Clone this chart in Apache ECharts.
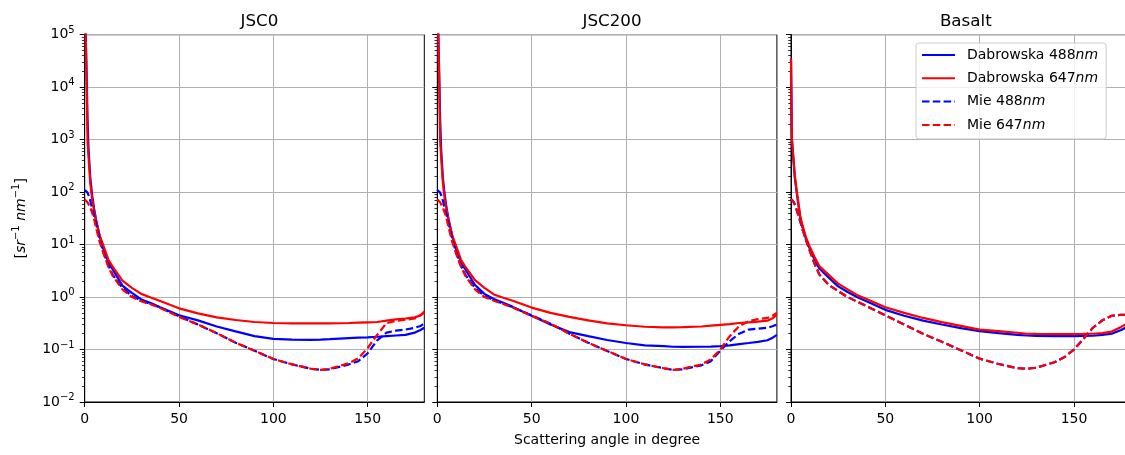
<!DOCTYPE html>
<html><head><meta charset="utf-8">
<script src="https://cdn.jsdelivr.net/npm/echarts@6/dist/echarts.min.js"></script>
<style>html,body{margin:0;padding:0;background:#fff}#c{width:1125px;height:455px}</style>
</head><body><div id="c"></div>
<script>
// ---------- data ----------
const angles = [0, 0.5, 1, 1.5, 2, 3, 4, 5, 6, 8, 10, 12.5, 15, 20, 25, 30, 35, 40, 50, 60, 70, 80, 90, 100, 110, 120, 125, 130, 140, 145, 150, 155, 160, 165, 170, 175, 178, 180];
const panelTitles = ['JSC0', 'JSC200', 'Basalt'];
const seriesNames = ['Dabrowska 488nm', 'Dabrowska 647nm', 'Mie 488nm', 'Mie 647nm'];
const xTicks = [0, 50, 100, 150];
const yTicks = [0.01, 0.1, 1, 10, 100, 1000, 10000, 100000];
const xLabel = 'Scattering angle in degree';

const jsc0_dab488 = [3e5, 1.2e5, 2e4, 2.5e3, 700, 180, 85, 48, 30, 14, 8, 4.7, 3.3, 1.65, 1.2, 0.9, 0.77, 0.64, 0.45, 0.36, 0.275, 0.222, 0.18, 0.16, 0.155, 0.153, 0.155, 0.158, 0.165, 0.168, 0.17, 0.175, 0.18, 0.185, 0.19, 0.21, 0.235, 0.26];
const jsc0_dab647 = [3e5, 1e5, 1.3e4, 1e3, 480, 145, 71, 44, 29, 14.6, 9.4, 5.2, 3.7, 2.05, 1.5, 1.15, 0.98, 0.84, 0.61, 0.49, 0.41, 0.365, 0.335, 0.32, 0.316, 0.315, 0.315, 0.315, 0.32, 0.325, 0.33, 0.335, 0.355, 0.375, 0.39, 0.41, 0.45, 0.5];
const jsc0_mie488 = [110, 108, 104, 98, 88, 68, 47, 36, 25, 12.5, 7, 4, 2.6, 1.5, 1.05, 0.85, 0.74, 0.63, 0.43, 0.30, 0.205, 0.135, 0.095, 0.066, 0.052, 0.043, 0.041, 0.042, 0.052, 0.06, 0.085, 0.15, 0.21, 0.23, 0.24, 0.26, 0.28, 0.32];
const jsc0_mie647 = [72, 70, 68, 64, 60, 50, 40, 30, 21, 11, 6.7, 3.8, 2.5, 1.4, 1.0, 0.83, 0.73, 0.62, 0.42, 0.30, 0.205, 0.135, 0.095, 0.066, 0.052, 0.043, 0.041, 0.043, 0.055, 0.068, 0.107, 0.19, 0.32, 0.35, 0.37, 0.39, 0.45, 0.53];

const jsc200_dab488 = [3e5, 1.2e5, 2e4, 2.5e3, 700, 180, 85, 48, 30, 14, 8, 4.7, 3.3, 1.7, 1.15, 0.92, 0.78, 0.65, 0.44, 0.30, 0.215, 0.18, 0.152, 0.133, 0.12, 0.116, 0.113, 0.112, 0.113, 0.114, 0.116, 0.12, 0.127, 0.133, 0.14, 0.15, 0.17, 0.19];
const jsc200_dab647 = [3e5, 1e5, 1.3e4, 1e3, 480, 145, 71, 44, 29, 14.6, 9.4, 5.2, 3.7, 2.1, 1.5, 1.12, 0.97, 0.85, 0.63, 0.5, 0.42, 0.36, 0.315, 0.29, 0.272, 0.265, 0.265, 0.268, 0.275, 0.285, 0.295, 0.305, 0.32, 0.33, 0.34, 0.355, 0.4, 0.46];
const jsc200_mie488 = [110, 108, 104, 98, 88, 68, 47, 36, 25, 12.5, 7, 4, 2.6, 1.5, 1.05, 0.87, 0.75, 0.64, 0.45, 0.31, 0.2, 0.135, 0.094, 0.066, 0.052, 0.044, 0.041, 0.042, 0.05, 0.06, 0.095, 0.145, 0.2, 0.24, 0.25, 0.26, 0.28, 0.3];
const jsc200_mie647 = [72, 70, 68, 64, 60, 50, 40, 30, 21, 11, 6.7, 3.8, 2.5, 1.4, 1.0, 0.85, 0.74, 0.63, 0.44, 0.31, 0.2, 0.135, 0.094, 0.066, 0.052, 0.044, 0.041, 0.043, 0.052, 0.065, 0.1, 0.18, 0.28, 0.345, 0.38, 0.4, 0.45, 0.5];

const basalt_dab488 = [3.5e4, 1e3, 560, 330, 190, 100, 55, 31, 22, 12.5, 8.3, 5.1, 3.5, 2.35, 1.6, 1.25, 1.0, 0.83, 0.57, 0.44, 0.355, 0.3, 0.255, 0.225, 0.205, 0.19, 0.185, 0.182, 0.18, 0.18, 0.18, 0.181, 0.183, 0.19, 0.2, 0.235, 0.27, 0.3];
const basalt_dab647 = [3.5e4, 1e3, 600, 360, 210, 110, 59, 33, 24, 13.5, 9, 5.8, 3.9, 2.65, 1.8, 1.4, 1.1, 0.92, 0.64, 0.5, 0.4, 0.333, 0.283, 0.24, 0.224, 0.209, 0.2, 0.198, 0.197, 0.197, 0.197, 0.198, 0.2, 0.205, 0.22, 0.27, 0.31, 0.35];
const basalt_mie488 = [74, 72, 68, 64, 58, 46, 35, 27, 20, 12, 7.5, 4.3, 2.7, 1.7, 1.3, 1.0, 0.82, 0.67, 0.45, 0.3, 0.2, 0.14, 0.097, 0.067, 0.053, 0.044, 0.043, 0.045, 0.058, 0.072, 0.1, 0.16, 0.26, 0.36, 0.44, 0.46, 0.46, 0.45];
const basalt_mie647 = [74, 72, 68, 64, 58, 46, 35, 27, 20, 12, 7.5, 4.3, 2.7, 1.7, 1.3, 1.0, 0.82, 0.67, 0.45, 0.3, 0.2, 0.14, 0.097, 0.067, 0.053, 0.044, 0.043, 0.045, 0.058, 0.072, 0.1, 0.16, 0.26, 0.36, 0.44, 0.46, 0.46, 0.45];

const panelData = [
  [jsc0_dab488, jsc0_dab647, jsc0_mie488, jsc0_mie647],
  [jsc200_dab488, jsc200_dab647, jsc200_mie488, jsc200_mie647],
  [basalt_dab488, basalt_dab647, basalt_mie488, basalt_mie647]
];

// ---------- style / layout ----------
const FONT = 'DejaVu Sans';
const seriesColors = ['#0000ff', '#ff0000', '#0000ff', '#ff0000'];
const seriesDash = ['solid', 'solid', [7.5, 3.3], [7.5, 3.3]];
const panelLeft = [84.7, 437.3, 791];
const panelWidth = 339.6, panelTop = 34.7, panelHeight = 367.3;

const minorLog = [];
for (let n = -2; n < 5; n++) for (let k = 2; k <= 9; k++) minorLog.push(Math.log10(k) + n);

const supRich = {
  b: {fontSize: 14, fontFamily: FONT, color: '#000'},
  sup: {fontSize: 10, fontFamily: FONT, color: '#000', padding: [0, 0, 9, 0]},
  it: {fontSize: 14, fontFamily: FONT, color: '#000', fontStyle: 'italic'}
};
function expLabel(v) {
  const n = Math.round(Math.log10(v));
  return '{b|10}{sup|' + String(n).replace('-', '\u2212') + '}';
}

const grid = [], xAxis = [], yAxis = [], series = [], title = [];
for (let p = 0; p < 3; p++) {
  grid.push({left: panelLeft[p], top: panelTop, width: panelWidth, height: panelHeight,
    show: true, borderColor: '#000', borderWidth: 1, backgroundColor: 'transparent',
    containLabel: false, outerBoundsMode: 'none'});
  title.push({text: panelTitles[p], left: panelLeft[p] + panelWidth / 2, top: 8, textAlign: 'center',
    textStyle: {fontSize: 16.7, fontWeight: 'normal', color: '#000', fontFamily: FONT}});
  xAxis.push({
    type: 'value', gridIndex: p, min: 0, max: 180, interval: 50,
    name: p === 1 ? xLabel : '', nameLocation: 'middle', nameGap: 31,
    nameTextStyle: {fontSize: 14, color: '#000', fontFamily: FONT},
    axisLine: {show: true, onZero: false, lineStyle: {color: '#000', width: 1}},
    axisTick: {show: true, length: 5, lineStyle: {color: '#000', width: 1}, customValues: xTicks},
    axisLabel: {customValues: xTicks, margin: 10, fontSize: 14, color: '#000', fontFamily: FONT},
    splitLine: {show: true, lineStyle: {color: '#b0b0b0', width: 1}}
  });
  yAxis.push({
    type: 'log', logBase: 10, gridIndex: p, min: yTicks[0], max: yTicks[yTicks.length - 1], splitNumber: 7,
    name: p === 0 ? '[{it|sr}{sup|\u22121} {it|nm}{sup|\u22121}]' : '',
    nameLocation: 'middle', nameGap: 54, nameRotate: 90,
    nameTextStyle: {fontSize: 14, color: '#000', fontFamily: FONT, rich: supRich},
    axisLine: {show: true, onZero: false, lineStyle: {color: '#000', width: 1}},
    axisTick: {show: true, length: 5, lineStyle: {color: '#000', width: 1}},
    axisLabel: {show: p === 0, margin: 10, formatter: expLabel, rich: supRich, color: '#000'},
    splitLine: {show: true, lineStyle: {color: '#b0b0b0', width: 1}}
  });
  yAxis.push({
    type: 'value', gridIndex: p, min: -2, max: 5, position: 'left', offset: 0,
    axisLine: {show: false},
    axisTick: {show: true, length: 2.8, lineStyle: {color: '#000', width: 0.8}, customValues: minorLog},
    axisLabel: {show: false},
    splitLine: {show: false}
  });
  for (let s = 0; s < 4; s++) {
    const vals = panelData[p][s];
    series.push({
      name: seriesNames[s], type: 'line', xAxisIndex: p, yAxisIndex: 2 * p,
      data: angles.map((a, i) => [a, vals[i]]),
      showSymbol: false, symbol: 'none', clip: true, smooth: false,
      lineStyle: {color: seriesColors[s], width: 2.2, type: seriesDash[s]},
      itemStyle: {color: seriesColors[s]},
      z: 3 + s
    });
  }
}

const chart = echarts.init(document.getElementById('c'), null, {renderer: 'canvas'});
chart.setOption({
  animation: false,
  backgroundColor: '#fff',
  title, grid, xAxis, yAxis, series,
  legend: {
    data: seriesNames, orient: 'vertical', left: 916, top: 43,
    itemWidth: 33, itemHeight: 14, itemGap: 9.3,
    padding: [5, 8, 7, 5],
    borderColor: '#cccccc', borderWidth: 1, borderRadius: 3,
    backgroundColor: 'rgba(255,255,255,0.8)',
    itemStyle: {opacity: 0, borderWidth: 0},
    formatter: n => n.replace('nm', '{it|nm}'),
    textStyle: {fontSize: 14, color: '#000', fontFamily: FONT, padding: [0, 0, 0, 7], rich: supRich}
  }
});
</script></body></html>
